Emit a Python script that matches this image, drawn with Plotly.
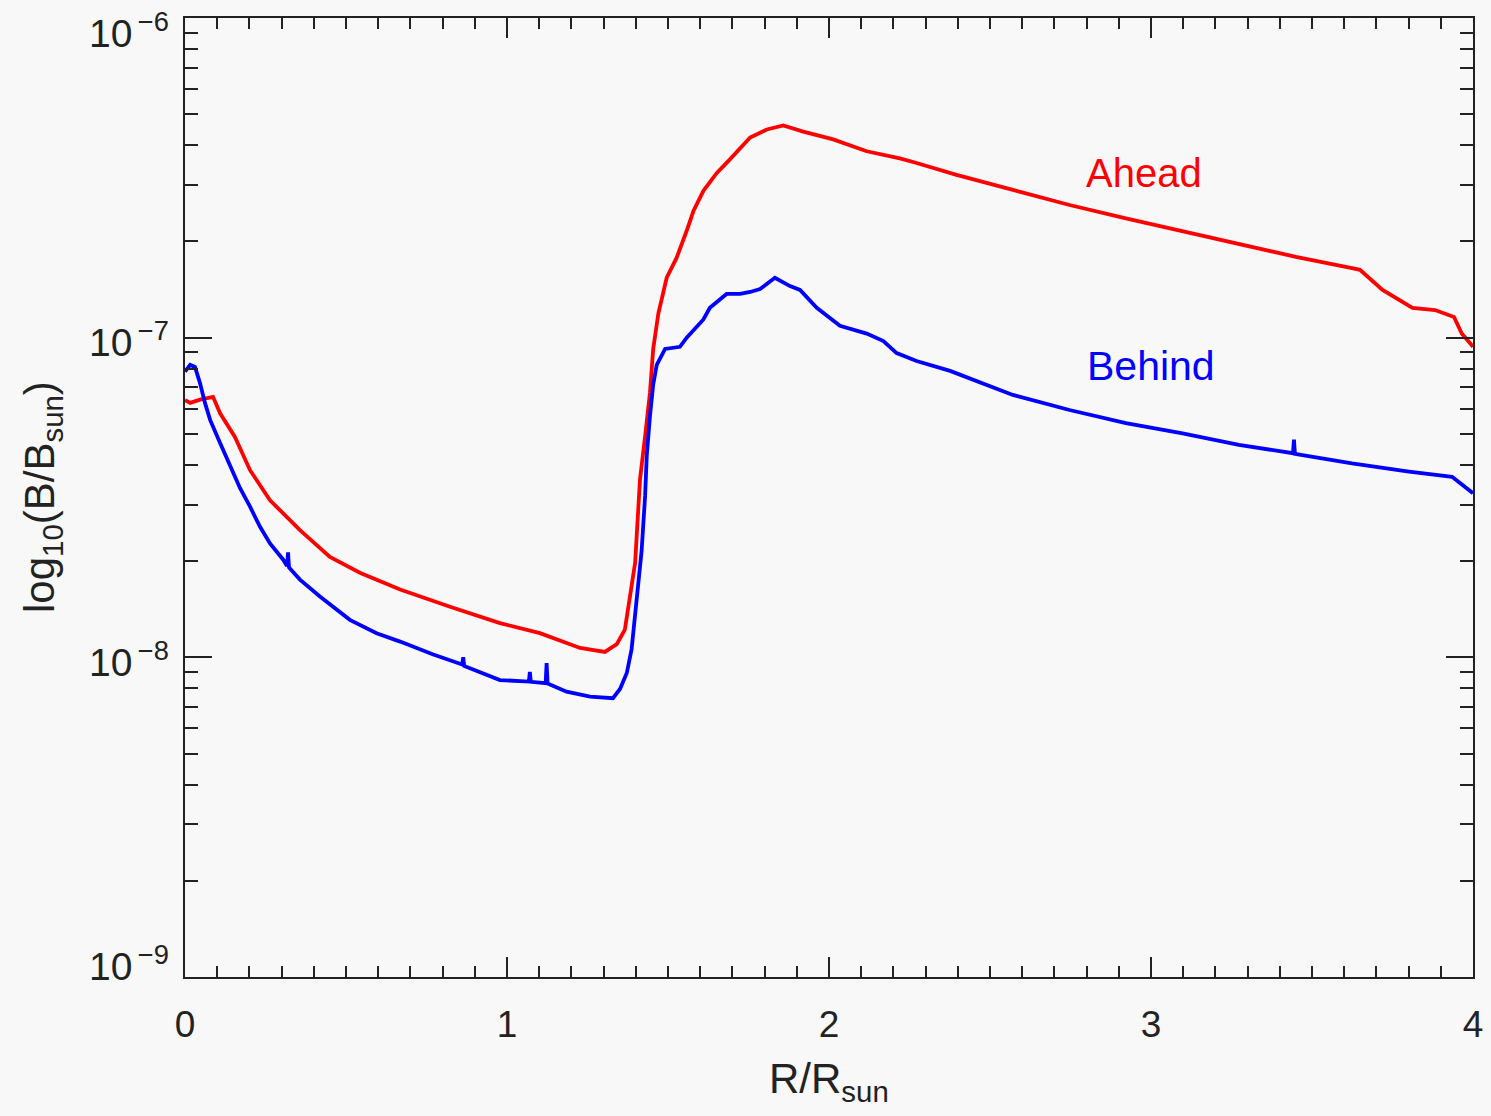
import math
import plotly.graph_objects as go

# Ahead (red) series
ahead_r = [0.000, 0.016, 0.047, 0.087, 0.109, 0.155, 0.202, 0.264, 0.357, 0.450,
           0.543, 0.668, 0.823, 0.978, 1.102, 1.227, 1.304, 1.341, 1.366, 1.382,
           1.398, 1.403, 1.413, 1.429, 1.444, 1.454, 1.470, 1.496, 1.527, 1.558,
           1.579, 1.610, 1.651, 1.693, 1.755, 1.807, 1.858, 1.920, 2.013, 2.117,
           2.220, 2.272, 2.396, 2.571, 2.747, 2.922, 3.098, 3.273, 3.450, 3.624,
           3.649, 3.719, 3.812, 3.882, 3.941, 3.965, 4.000]
ahead_b = [6.38e-8, 6.25e-8, 6.40e-8, 6.53e-8, 5.80e-8, 4.89e-8, 3.85e-8, 3.10e-8, 2.50e-8, 2.06e-8,
           1.84e-8, 1.63e-8, 1.44e-8, 1.28e-8, 1.19e-8, 1.07e-8, 1.04e-8, 1.10e-8, 1.22e-8, 1.58e-8,
           1.98e-8, 2.42e-8, 3.60e-8, 4.93e-8, 6.73e-8, 9.22e-8, 1.19e-7, 1.54e-7, 1.78e-7, 2.16e-7,
           2.49e-7, 2.88e-7, 3.27e-7, 3.62e-7, 4.23e-7, 4.48e-7, 4.61e-7, 4.41e-7, 4.17e-7, 3.83e-7,
           3.64e-7, 3.52e-7, 3.23e-7, 2.90e-7, 2.60e-7, 2.36e-7, 2.15e-7, 1.97e-7, 1.79e-7, 1.65e-7,
           1.63e-7, 1.41e-7, 1.24e-7, 1.22e-7, 1.16e-7, 1.03e-7, 9.37e-8]

# Behind (blue) series
behind_r = [0.000, 0.016, 0.031, 0.047, 0.062, 0.078, 0.109, 0.140, 0.171, 0.202,
            0.233, 0.264, 0.305, 0.317, 0.320, 0.323, 0.357, 0.419, 0.512, 0.595,
            0.668, 0.771, 0.861, 0.864, 0.867, 0.978, 1.068, 1.071, 1.074, 1.120,
            1.123, 1.126, 1.185, 1.258, 1.329, 1.351, 1.372, 1.387, 1.398, 1.408,
            1.418, 1.429, 1.434, 1.444, 1.454, 1.465, 1.491, 1.537, 1.558, 1.610,
            1.630, 1.682, 1.724, 1.755, 1.786, 1.832, 1.879, 1.910, 1.962, 2.034,
            2.117, 2.169, 2.210, 2.272, 2.376, 2.571, 2.747, 2.922, 3.098, 3.273,
            3.441, 3.444, 3.447, 3.624, 3.801, 3.935, 4.000]
behind_b = [7.83e-8, 8.22e-8, 8.10e-8, 7.19e-8, 6.25e-8, 5.53e-8, 4.68e-8, 3.95e-8, 3.38e-8, 2.96e-8,
            2.56e-8, 2.27e-8, 2.02e-8, 1.93e-8, 2.13e-8, 1.91e-8, 1.75e-8, 1.55e-8, 1.31e-8, 1.19e-8,
            1.12e-8, 1.02e-8, 9.50e-9, 1.00e-8, 9.40e-9, 8.49e-9, 8.40e-9, 9.00e-9, 8.38e-9, 8.30e-9,
            9.60e-9, 8.28e-9, 7.81e-9, 7.54e-9, 7.45e-9, 7.96e-9, 8.93e-9, 1.06e-8, 1.37e-8, 1.63e-8,
            2.15e-8, 3.21e-8, 4.27e-8, 5.69e-8, 7.13e-8, 8.22e-8, 9.22e-8, 9.36e-8, 1.00e-7, 1.14e-7,
            1.24e-7, 1.37e-7, 1.37e-7, 1.39e-7, 1.42e-7, 1.54e-7, 1.45e-7, 1.41e-7, 1.24e-7, 1.09e-7,
            1.03e-7, 9.76e-8, 8.95e-8, 8.45e-8, 7.87e-8, 6.62e-8, 5.94e-8, 5.40e-8, 5.02e-8, 4.62e-8,
            4.35e-8, 4.80e-8, 4.33e-8, 4.04e-8, 3.81e-8, 3.67e-8, 3.26e-8]

y_major_vals = [1e-9, 1e-8, 1e-7, 1e-6]
y_major_text = ["10<sup>\u2009\u22129</sup>", "10<sup>\u2009\u22128</sup>",
                "10<sup>\u2009\u22127</sup>", "10<sup>\u2009\u22126</sup>"]
y_minor_vals = [k * 10.0 ** e for e in (-9, -8, -7) for k in range(2, 10)]
x_tick_vals = [0, 1, 2, 3, 4]
x_tick_text = ["0", "1", "2", "3", "4"]

label_ahead = "Ahead"
label_behind = "Behind"
x_title = "R/R<sub>sun</sub>"
y_title = "log<sub>10</sub>(B/B<sub>sun</sub>)"

AX = "#222222"
BG = "#f8f8f8"
FONT = "Liberation Sans, Arial, sans-serif"

fig = go.Figure()
fig.add_trace(go.Scatter(x=ahead_r, y=ahead_b, mode="lines",
                         line=dict(color="#ff0000", width=3.8), showlegend=False))
fig.add_trace(go.Scatter(x=behind_r, y=behind_b, mode="lines",
                         line=dict(color="#0000ff", width=3.8), showlegend=False))

fig.add_annotation(x=2.978, y=-6.485, text=label_ahead, showarrow=False,
                   font=dict(color="#ff0000", size=40, family=FONT))
fig.add_annotation(x=2.999, y=-7.089, text=label_behind, showarrow=False,
                   font=dict(color="#0000ff", size=41, family=FONT))

# y tick labels (kept inside the frame at the ends, as in the reference)
n_ticks = len(y_major_vals)
for i, (v, t) in enumerate(zip(y_major_vals, y_major_text)):
    if i == 0:
        shift = 14
    elif i == n_ticks - 1:
        shift = -12
    else:
        shift = -2
    fig.add_annotation(xref="paper", x=0, xanchor="right", xshift=-14,
                       y=math.log10(v), yanchor="middle", yshift=shift,
                       text=t, showarrow=False,
                       font=dict(size=39, family=FONT, color=AX))

# axis titles
fig.add_annotation(xref="paper", yref="paper", x=0.5, y=0, yanchor="top", yshift=-76,
                   text=x_title, showarrow=False, font=dict(size=42, family=FONT, color=AX))
fig.add_annotation(xref="paper", yref="paper", x=0, y=0.5, xanchor="right", xshift=-114,
                   textangle=-90, text=y_title, showarrow=False,
                   font=dict(size=42, family=FONT, color=AX))

fig.update_layout(
    width=1491, height=1116, autosize=False,
    margin=dict(l=185, r=18, t=18, b=139, autoexpand=False),
    paper_bgcolor=BG, plot_bgcolor=BG,
    font=dict(family=FONT, color=AX, size=36),
    showlegend=False,
)
fig.update_xaxes(
    range=[0, 4], showgrid=False, zeroline=False, automargin=False,
    showline=True, linecolor=AX, linewidth=2, mirror="allticks",
    ticks="inside", ticklen=20, tickwidth=2, tickcolor=AX,
    tickmode="array", tickvals=x_tick_vals, ticktext=x_tick_text,
    tickfont=dict(size=37), ticklabelstandoff=14,
    minor=dict(ticks="inside", ticklen=11, tickwidth=2, tickcolor=AX, dtick=0.1, showgrid=False),
)
fig.update_yaxes(
    type="log", range=[-9, -6], showgrid=False, zeroline=False, automargin=False,
    showline=True, linecolor=AX, linewidth=2, mirror="allticks",
    ticks="inside", ticklen=27, tickwidth=2, tickcolor=AX,
    tickmode="array", tickvals=y_major_vals, showticklabels=False,
    minor=dict(ticks="inside", ticklen=13, tickwidth=2, tickcolor=AX,
               tickmode="array", tickvals=y_minor_vals, showgrid=False),
)

fig.write_html("out.html",
               config=dict(displayModeBar=False, responsive=False),
               post_script="document.body.style.margin='0';document.body.style.overflow='hidden';"
                           "document.body.style.background='#f8f8f8';")
